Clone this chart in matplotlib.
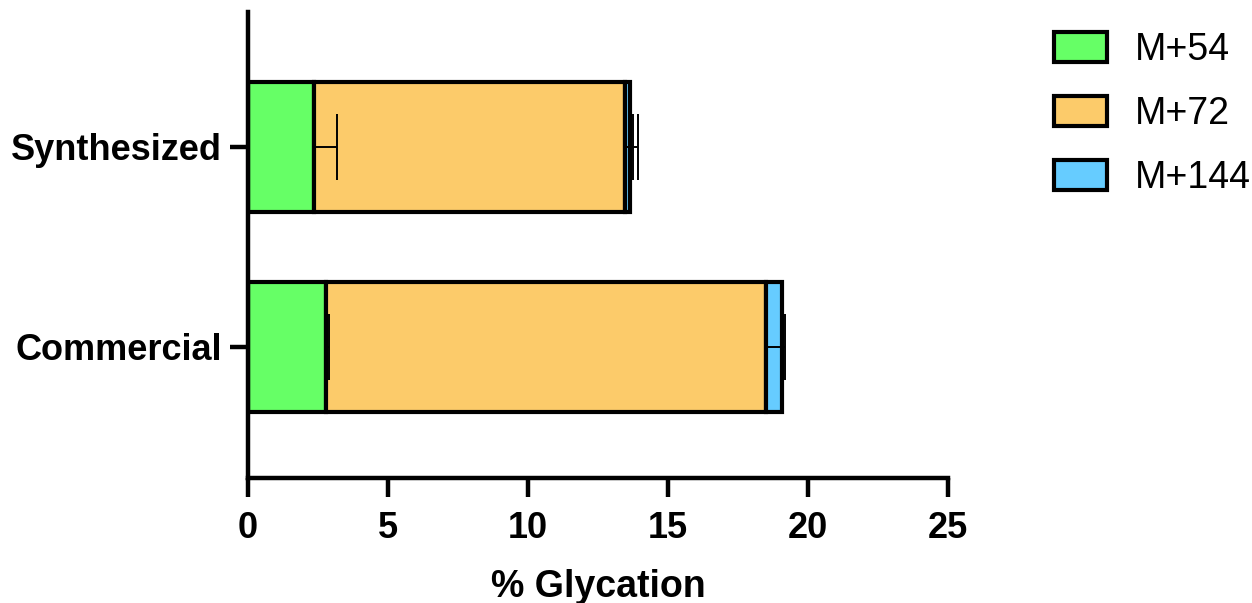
import numpy as np
import matplotlib.pyplot as plt

# data
samples = ['Commercial', 'Synthesized']
species = ['M+54', 'M+72', 'M+144']
glycation = {
    'M+54': [2.78, 2.35],
    'M+72': [15.72, 11.10],
    'M+144': [0.56, 0.18],
}
errors = {
    'M+54': [0.10, 0.83],
    'M+72': [0.55, 0.30],
    'M+144': [0.13, 0.30],
}
colors = ['#66FF66', '#FCCB6A', '#66CCFF']
xticks = [0, 5, 10, 15, 20, 25]

plt.rcParams['font.family'] = ['Liberation Sans', 'DejaVu Sans']

fig = plt.figure(figsize=(12.52, 6.03), dpi=100)
ax = fig.add_axes([248/1252, 1-478/603, 700/1252, 466/603])

y = np.arange(len(samples))
left = np.zeros(len(samples))
for sp, col in zip(species, colors):
    vals = np.array(glycation[sp])
    ax.barh(y, vals, left=left, height=0.65, color=col, edgecolor='black',
            linewidth=3, label=sp, zorder=2)
    ends = left + vals
    err = np.array(errors[sp])
    ax.errorbar(ends, y, xerr=[np.zeros_like(err), err], fmt='none',
                ecolor='black', elinewidth=1.4, capsize=24, capthick=1.4, zorder=3)
    left = ends

ax.set_xlim(0, 25)
ax.set_ylim(-0.655, 1.675)
ax.set_xticks(xticks)
ax.set_xticklabels([str(t) for t in xticks], fontsize=26, fontweight='bold')
ax.set_yticks(y)
ax.set_yticklabels(samples, fontsize=26, fontweight='bold')
ax.set_xlabel('% Glycation', fontsize=27, fontweight='bold', labelpad=16)

for s in ['top', 'right']:
    ax.spines[s].set_visible(False)
for s in ['left', 'bottom']:
    ax.spines[s].set_linewidth(3.2)
ax.tick_params(axis='x', length=14, width=3.2, pad=10)
ax.tick_params(axis='y', length=13, width=3.2, pad=6)

leg = ax.legend(loc='upper left', bbox_to_anchor=(1054/1252, 1-32/603),
                bbox_transform=fig.transFigure, frameon=False, fontsize=27,
                handlelength=1.4, handleheight=0.85, handletextpad=0.75,
                labelspacing=0.75, borderpad=0, borderaxespad=0)

plt.savefig('out.png')
